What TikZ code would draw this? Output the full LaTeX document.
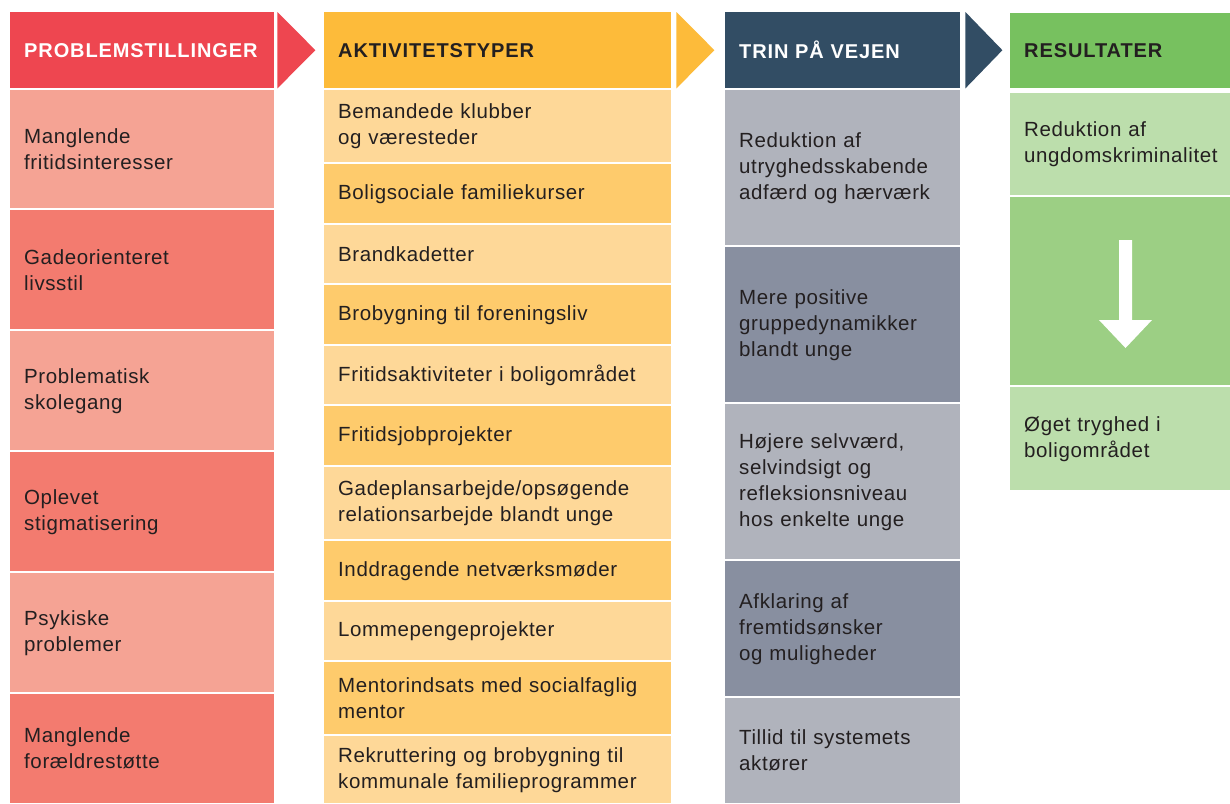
\documentclass[tikz,border=0pt]{standalone}
\usepackage{fontspec}
\setmainfont{Liberation Sans}[LetterSpace=3]
\newfontfamily\headfont{Liberation Sans}[LetterSpace=4.5]
\definecolor{txtdark}{HTML}{231F20}
\definecolor{probhead}{HTML}{EE4650}
\definecolor{problight}{HTML}{F5A394}
\definecolor{probdark}{HTML}{F37B6F}
\definecolor{akthead}{HTML}{FDBB3A}
\definecolor{aktlight}{HTML}{FED898}
\definecolor{aktdark}{HTML}{FECB6C}
\definecolor{trinhead}{HTML}{324D64}
\definecolor{trinlight}{HTML}{B0B3BC}
\definecolor{trindark}{HTML}{888FA0}
\definecolor{resuhead}{HTML}{77C15F}
\definecolor{resulight}{HTML}{BCDEAC}
\definecolor{resudark}{HTML}{9CCF84}
\begin{document}
\begin{tikzpicture}[x=1pt,y=-1pt,
    cell/.style={anchor=north west,inner xsep=14pt,inner ysep=0pt,align=left,
      font=\fontsize{20.5}{26}\selectfont,text=txtdark},
    headcell/.style={cell,minimum height=76pt,font=\headfont\fontsize{20}{26}\selectfont\bfseries},
    pcell/.style={cell,minimum width=264pt,text width=236pt},
    acell/.style={cell,minimum width=347pt,text width=319pt},
    tcell/.style={cell,minimum width=235pt,text width=207pt},
    rcell/.style={cell,minimum width=220pt,text width=194pt}]
  \fill[white] (0,0) rectangle (1230,803);
  \useasboundingbox (0,0) rectangle (1230,803);
  \draw
    (10,12) node[pcell,headcell,fill=probhead,text=white] (p0){PROBLEMSTILLINGER}
    (10,90) node[pcell,fill=problight,minimum height=118pt] (p1){Manglende\\fritidsinteresser}
    (10,210) node[pcell,fill=probdark,minimum height=119pt] (p2){Gadeorienteret\\livsstil}
    (10,331) node[pcell,fill=problight,minimum height=119pt] (p3){Problematisk\\skolegang}
    (10,452) node[pcell,fill=probdark,minimum height=119pt] (p4){Oplevet\\stigmatisering}
    (10,573) node[pcell,fill=problight,minimum height=119pt] (p5){Psykiske\\problemer}
    (10,694) node[pcell,fill=probdark,minimum height=109pt] (p6){Manglende\\forældrestøtte};
  \draw
    (324,12) node[acell,headcell,fill=akthead] (a0){AKTIVITETSTYPER}
    (324,90) node[acell,fill=aktlight,minimum height=72pt] (a1){Bemandede klubber\\og væresteder}
    (324,164) node[acell,fill=aktdark,minimum height=59pt] (a2){Boligsociale familiekurser}
    (324,225) node[acell,fill=aktlight,minimum height=58pt] (a3){Brandkadetter}
    (324,285) node[acell,fill=aktdark,minimum height=59pt] (a4){Brobygning til foreningsliv}
    (324,346) node[acell,fill=aktlight,minimum height=58pt] (a5){Fritidsaktiviteter i boligområdet}
    (324,406) node[acell,fill=aktdark,minimum height=59pt] (a6){Fritidsjobprojekter}
    (324,467) node[acell,fill=aktlight,minimum height=72pt] (a7){Gadeplansarbejde/opsøgende\\relationsarbejde blandt unge}
    (324,541) node[acell,fill=aktdark,minimum height=59pt] (a8){Inddragende netværksmøder}
    (324,602) node[acell,fill=aktlight,minimum height=58pt] (a9){Lommepengeprojekter}
    (324,662) node[acell,fill=aktdark,minimum height=72pt] (a10){Mentorindsats med socialfaglig\\mentor}
    (324,736) node[acell,fill=aktlight,minimum height=67pt] (a11){Rekruttering og brobygning til\\kommunale familieprogrammer};
  \draw
    (725,12) node[tcell,headcell,fill=trinhead,text=white] (t0){TRIN PÅ VEJEN}
    (725,90) node[tcell,fill=trinlight,minimum height=155pt] (t1){Reduktion af\\utryghedsskabende\\adfærd og hærværk}
    (725,247) node[tcell,fill=trindark,minimum height=155pt] (t2){Mere positive\\gruppedynamikker\\blandt unge}
    (725,404) node[tcell,fill=trinlight,minimum height=155pt] (t3){Højere selvværd,\\selvindsigt og\\refleksionsniveau\\hos enkelte unge}
    (725,561) node[tcell,fill=trindark,minimum height=135pt] (t4){Afklaring af\\fremtidsønsker\\og muligheder}
    (725,698) node[tcell,fill=trinlight,minimum height=105pt] (t5){Tillid til systemets\\aktører};
  \draw
    (1010,13) node[rcell,headcell,minimum height=75pt,fill=resuhead] (r0){RESULTATER}
    (1010,93) node[rcell,fill=resulight,minimum height=102pt] (r1){Reduktion af\\ungdomskriminalitet}
    (1010,197) node[rcell,fill=resudark,minimum height=188pt] (r2){}
    (1010,387) node[rcell,fill=resulight,minimum height=103pt] (r3){Øget tryghed i\\boligområdet};
  \fill[probhead] ([xshift=3pt]p0.north east) -- ([xshift=41pt]p0.east) -- ([xshift=3pt]p0.south east) -- cycle;
  \fill[akthead] ([xshift=5pt]a0.north east) -- ([xshift=43pt]a0.east) -- ([xshift=5pt]a0.south east) -- cycle;
  \fill[trinhead] ([xshift=5pt]t0.north east) -- ([xshift=42pt]t0.east) -- ([xshift=5pt]t0.south east) -- cycle;
  \fill[white] (1119,240) -- (1132,240) -- (1132,320) -- (1152,320) -- (1125.5,348)
    -- (1099,320) -- (1119,320) -- cycle;
\end{tikzpicture}
\end{document}
